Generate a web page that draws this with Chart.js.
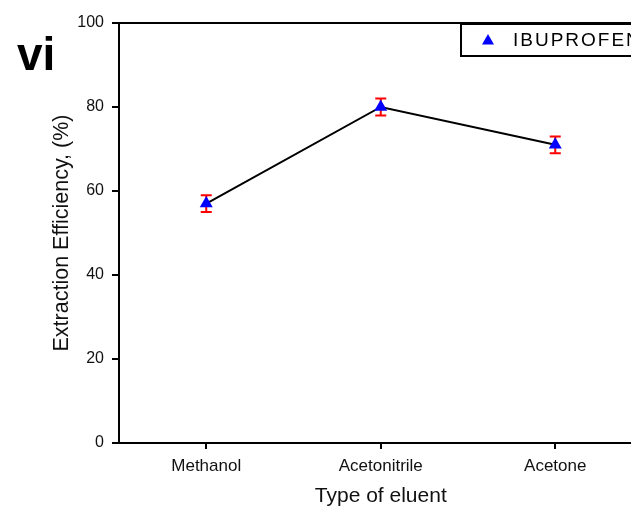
<!DOCTYPE html>
<html>
<head>
<meta charset="utf-8">
<script src="https://cdn.jsdelivr.net/npm/chart.js@4/dist/chart.umd.min.js"></script>
<style>
  html, body { margin: 0; padding: 0; background: #fff; overflow: hidden; }
  #wrap { position: relative; width: 631px; height: 510px; overflow: hidden; }
  #panel { position: absolute; left: 17px; top: 31px; font: bold 46px "Liberation Sans", Arial, sans-serif; color: #000; line-height: 1; }
  canvas { position: absolute; left: 0; top: 0; }
</style>
</head>
<body>
<div id="wrap">
  <canvas id="chart" width="650" height="510"></canvas>
  <div id="panel">vi</div>
</div>
<script>
// data
const solvents = ['Methanol', 'Acetonitrile', 'Acetone'];
const efficiency = [57, 80, 71];
const errorMargin = [2, 2, 2];
const seriesName = 'IBUPROFEN';

const FONT = '"Liberation Sans", Arial, sans-serif';

// red error bars, drawn before the points so the triangles sit on top
const errorBars = {
    id: 'errorBars',
    beforeDatasetsDraw(chart) {
        const { ctx, scales: { x, y } } = chart;
        ctx.save();
        ctx.strokeStyle = '#ff0000';
        ctx.lineWidth = 2;
        efficiency.forEach((v, i) => {
            const px = x.getPixelForValue(i);
            const top = y.getPixelForValue(v + errorMargin[i]);
            const bot = y.getPixelForValue(v - errorMargin[i]);
            ctx.beginPath();
            ctx.moveTo(px, top); ctx.lineTo(px, bot);
            ctx.moveTo(px - 5.5, top); ctx.lineTo(px + 5.5, top);
            ctx.moveTo(px - 5.5, bot); ctx.lineTo(px + 5.5, bot);
            ctx.stroke();
        });
        ctx.restore();
    }
};

// top frame line and the boxed legend in the top-right corner
const frameLegend = {
    id: 'frameLegend',
    afterDraw(chart) {
        const { ctx, chartArea: a } = chart;
        ctx.save();
        ctx.strokeStyle = '#000';
        ctx.lineWidth = 2;
        ctx.beginPath();
        ctx.moveTo(a.left - 1, a.top); ctx.lineTo(a.right, a.top);
        ctx.stroke();

        const bx = 461, by = a.top + 1;
        ctx.fillStyle = '#fff';
        ctx.fillRect(bx, by, 200, 32);
        ctx.lineWidth = 2;
        ctx.strokeRect(bx, by, 200, 32);

        // triangle marker
        const cx = bx + 27, cy = by + 16;
        ctx.fillStyle = '#0000ff';
        ctx.beginPath();
        ctx.moveTo(cx, cy - 6);
        ctx.lineTo(cx + 6, cy + 4.5);
        ctx.lineTo(cx - 6, cy + 4.5);
        ctx.closePath();
        ctx.fill();

        ctx.fillStyle = '#000';
        ctx.font = '19px ' + FONT;
        ctx.letterSpacing = '2px';
        ctx.textBaseline = 'middle';
        ctx.fillText(seriesName, bx + 52, cy + 1);
        ctx.restore();
    }
};

new Chart(document.getElementById('chart'), {
    type: 'line',
    data: {
        labels: solvents,
        datasets: [{
            label: seriesName,
            data: efficiency,
            borderColor: '#000',
            borderWidth: 2,
            tension: 0,
            pointStyle: 'triangle',
            pointRadius: 7.5,
            pointBackgroundColor: '#0000ff',
            pointBorderColor: '#0000ff',
            pointBorderWidth: 0
        }]
    },
    options: {
        responsive: false,
        animation: false,
        devicePixelRatio: 1,
        layout: { padding: { left: 49, top: 23, right: 0, bottom: 1 } },
        plugins: { legend: { display: false }, tooltip: { enabled: false } },
        scales: {
            x: {
                offset: true,
                grid: { display: true, drawOnChartArea: false, drawTicks: true, tickLength: 6, offset: false, color: '#000', lineWidth: 2 },
                border: { display: true, color: '#000', width: 2 },
                ticks: { color: '#111', font: { family: FONT, size: 17 }, padding: 7, maxRotation: 0 },
                title: { display: true, text: 'Type of eluent', color: '#111', font: { family: FONT, size: 21 }, padding: { top: 4, bottom: 0 } },
                afterFit: s => { s.height = 66; }
            },
            y: {
                min: 0,
                max: 100,
                ticks: { stepSize: 20, color: '#111', font: { family: FONT, size: 16 }, padding: 8 },
                grid: { display: true, drawOnChartArea: false, drawTicks: true, tickLength: 7, color: '#000', lineWidth: 2 },
                border: { display: true, color: '#000', width: 2 },
                title: { display: true, text: 'Extraction Efficiency, (%)', color: '#111', font: { family: FONT, size: 21.5 }, padding: { top: 0, bottom: 0 } },
                afterFit: s => { s.width = 70; }
            }
        }
    },
    plugins: [errorBars, frameLegend]
});
</script>
</body>
</html>
